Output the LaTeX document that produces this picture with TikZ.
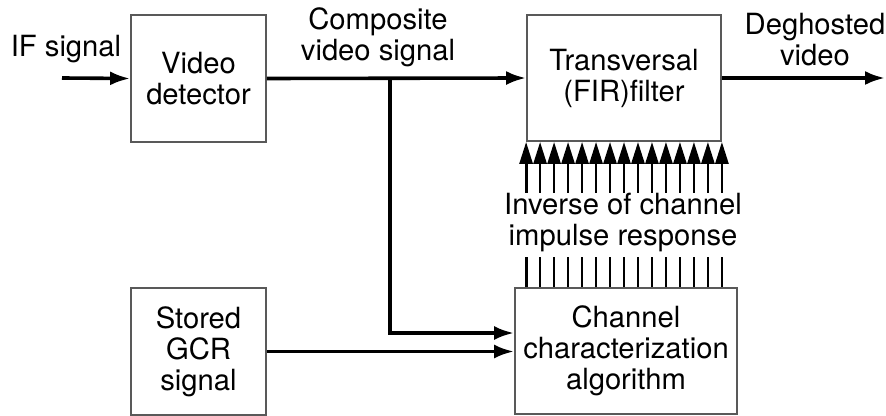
\documentclass[tikz,border=0pt]{standalone}
\usepackage{fontspec}
\setmainfont{TeX Gyre Heros}
\usetikzlibrary{positioning,calc,arrows.meta}
\tikzset{block/.style={draw=black!65, line width=0.9pt, minimum width=67.5pt, minimum height=63.5pt, align=center, inner sep=0pt},
line/.style={line width=1.8pt, -{Latex[length=10pt,width=7pt]}},
tap/.style={line width=1.4pt, -{Triangle[length=11pt,width=6.5pt]}},
label/.style={align=center}
}

\begin{document}
\begin{tikzpicture}[x=0.5pt, y=-0.5pt, every node/.style={font=\fontsize{14.6}{15.5}\selectfont}]
    \useasboundingbox (0,0) rectangle (886,416);
    % Nodes
    \node [block] (detector) at (198.5,78.5) {Video\\detector};
    \node [block, minimum width=97pt, minimum height=63pt] (filter) at (624,78) {Transversal\\(FIR)filter};
    \node [block] (stored) at (198.5,351.5) {Stored\\GCR\\signal};
    \node [block, minimum width=111pt, minimum height=63pt] (channel) at (626,351) {Channel\\characterization\\algorithm};
    \coordinate (in) at (62,78);
    \coordinate (out) at (885,78);
    \coordinate (split) at (390,78);
    \coordinate (turn) at (390,333);
    % Labels
    \node [label] (iflabel) at (66,49) {IF signal};
    \node [label] (composite) at (378,37) {Composite\\video signal};
    \node [label] (deghosted) at (815,40) {Deghosted\\video};
    \node [label] (inverse) at (623,222) {Inverse of channel\\impulse response};
    % Arrows
    \draw [line] (in) -- (detector.west);
    \draw [line] (detector.east) -- (filter.west);
    \draw [line] (filter.east) -- (out);
    \draw [line] (split) -- (turn) -- (turn -| channel.west);
    \draw [line] (stored.east) -- (stored.east -| channel.west);
    % Filter taps
    \foreach \i in {0,...,14}{
      \coordinate (up\i) at ($(filter.south west)!\i/14!(filter.south east)$);
      \coordinate (low\i) at (up\i |- channel.north);
      \draw [tap] ([yshift=-25.5pt]up\i) -- (up\i);
      \draw [line width=1.4pt] ([yshift=15pt]low\i) -- (low\i);
    }
  \end{tikzpicture}
\end{document}
